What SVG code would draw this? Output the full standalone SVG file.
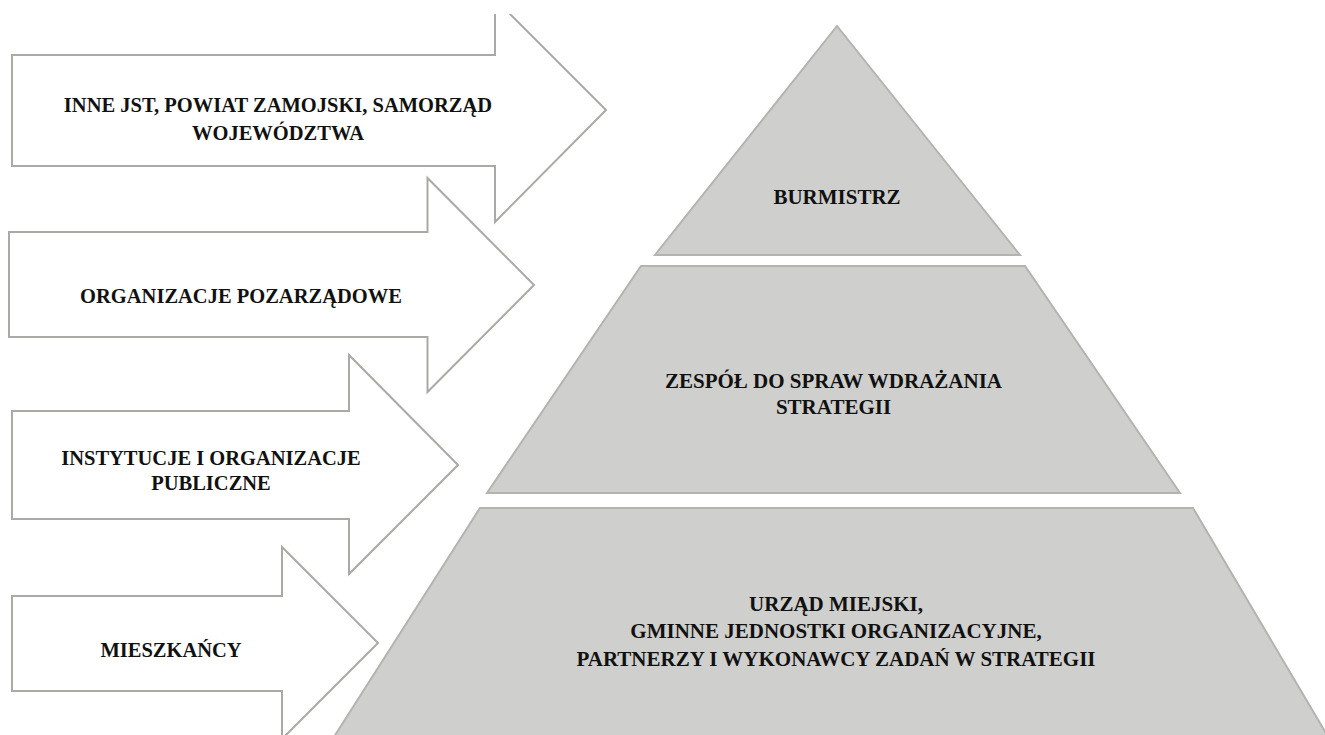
<svg xmlns="http://www.w3.org/2000/svg" width="1325" height="735" viewBox="0 0 1325 735">
<style>
.arrow{fill:#ffffff;stroke:#a9a9a5;stroke-width:2;stroke-linejoin:miter}
.tier{fill:#cfcfcd;stroke:#b3b3b0;stroke-width:2;stroke-linejoin:miter}
text{font-family:"Liberation Serif","Times New Roman",serif;font-weight:bold;fill:#111;text-anchor:middle}
.a{font-size:20.5px}
.p{font-size:21px}
</style>
<defs>
<clipPath id="clipTop"><rect x="0" y="14" width="1325" height="721"/></clipPath>
</defs>
<rect width="1325" height="735" fill="#ffffff"/>
<g id="connectors" clip-path="url(#clipTop)">
<g id="arrow-inne-jst">
<polygon class="arrow" points="12,55 495,55 495,-1 606,110 495,222 495,166 12,166"/>
<text class="a" x="278" y="112">INNE JST, POWIAT ZAMOJSKI, SAMORZĄD</text>
<text class="a" x="278" y="140">WOJEWÓDZTWA</text>
</g>
<g id="arrow-ngo">
<polygon class="arrow" points="9,232 427.5,232 427.5,178 534,285 427.5,392 427.5,337 9,337"/>
<text class="a" x="241" y="303">ORGANIZACJE POZARZĄDOWE</text>
</g>
<g id="arrow-instytucje">
<polygon class="arrow" points="12,411 349,411 349,355 458,465 349,574 349,519 12,519"/>
<text class="a" x="211" y="465">INSTYTUCJE I ORGANIZACJE</text>
<text class="a" x="211" y="490">PUBLICZNE</text>
</g>
<g id="arrow-mieszkancy">
<polygon class="arrow" points="12,596 282,596 282,547 378,643 282,739 282,691 12,691"/>
<text class="a" x="171" y="657">MIESZKAŃCY</text>
</g>
</g>
<g id="tier-burmistrz">
<polygon class="tier" points="837,26 1020,255 655,255"/>
<text class="p" x="837" y="204">BURMISTRZ</text>
</g>
<g id="tier-zespol">
<polygon class="tier" points="641,266 1025,266 1180,493 487,493"/>
<text class="p" x="833.5" y="388">ZESPÓŁ DO SPRAW WDRAŻANIA</text>
<text class="p" x="833.5" y="414">STRATEGII</text>
</g>
<g id="tier-urzad">
<polygon class="tier" points="480,508 1193,508 1330,740 332,740"/>
<text class="p" x="836" y="611">URZĄD MIEJSKI,</text>
<text class="p" x="836" y="638">GMINNE JEDNOSTKI ORGANIZACYJNE,</text>
<text class="p" x="836" y="666">PARTNERZY I WYKONAWCY ZADAŃ W STRATEGII</text>
</g>
</svg>
